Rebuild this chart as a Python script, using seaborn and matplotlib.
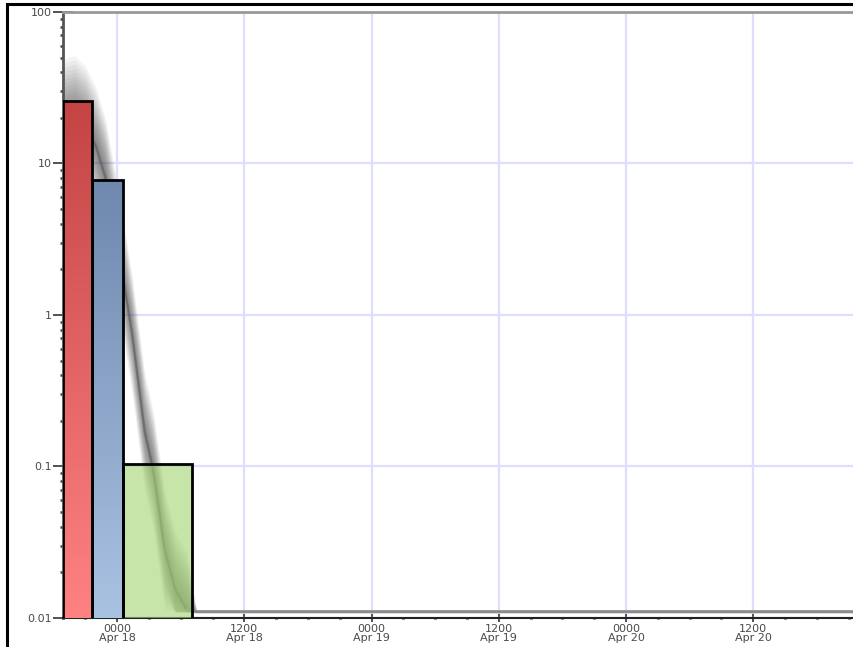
import numpy as np
import pandas as pd
import matplotlib
matplotlib.use("Agg")
import matplotlib.pyplot as plt
import matplotlib.dates as mdates
import matplotlib.ticker as mticker
from matplotlib.colors import LinearSegmentedColormap
from matplotlib.patches import Rectangle
import seaborn as sns

# bars (start, end, value)
bar_start = ["2013-04-17 18:54", "2013-04-17 21:38", "2013-04-18 00:34"]
bar_end = ["2013-04-17 21:38", "2013-04-18 00:34", "2013-04-18 07:06"]
bar_value = [25.9, 7.8, 0.104]
bar_top_colors = ["#c44444", "#6e88ae", "#a3d571"]
bar_bottom_colors = ["#ff8282", "#aac2e2", "#a3d571"]
bar_alpha = [1.0, 1.0, 0.6]

# central curve
curve_hours = [-6.0, -5.0, -4.0, -3.0, -2.0, -1.1, 0.3, 1.4, 2.6, 3.4, 4.5, 5.5, 6.6, 7.5, 70.0]
curve_value = [17, 20, 21, 18, 13, 8.1, 2.3, 0.76, 0.17, 0.095, 0.028, 0.0153, 0.0113, 0.011, 0.011]
spread = [1.05, 1.1, 1.16, 1.22, 1.29, 1.36, 1.44, 1.52, 1.61, 1.7, 1.8, 1.9, 2.02, 2.15, 2.3, 2.45]

y_ticks = [0.01, 0.1, 1, 10, 100]
y_labels = ["0.01", "0.1", "1", "10", "100"]

t0 = pd.Timestamp("2013-04-18 00:00")
x_min = pd.Timestamp("2013-04-17 18:54")
x_max = pd.Timestamp("2013-04-20 21:30")

sns.set_style("white")
plt.rcParams['font.family'] = ['DejaVu Sans']

fig = plt.figure(figsize=(8.54, 6.47), dpi=100)
ax = fig.add_axes([63/854, 1-618/647, 1-63/854, (618-12)/647])
ax.set_yscale("log")
ax.set_ylim(0.01, 100)
ax.set_xlim(mdates.date2num(x_min), mdates.date2num(x_max))

# grey shadow
cx = mdates.date2num(t0 + pd.to_timedelta(curve_hours, unit="h"))
cv = np.array(curve_value, dtype=float)
floor = cv[-1]
for s in spread:
    lo = np.where(cv > floor, np.maximum(cv / s, floor), floor)
    hi = np.where(cv > floor, np.maximum(cv * s, floor), floor)
    ax.fill_between(cx, lo, hi, color="#333333", alpha=0.052, linewidth=0, zorder=2)
curve_df = pd.DataFrame({"t": cx, "v": cv})
sns.lineplot(data=curve_df, x="t", y="v", ax=ax, color="#555555", linewidth=1.6,
             alpha=0.5, zorder=3)
sns.lineplot(data=curve_df.iloc[-3:], x="t", y="v", ax=ax, color="#8a8a8a",
             linewidth=2.2, alpha=1.0, zorder=3)

# bars with vertical gradient
for st, en, val, ctop, cbot, a in zip(bar_start, bar_end, bar_value,
                                      bar_top_colors, bar_bottom_colors, bar_alpha):
    x0 = mdates.date2num(pd.Timestamp(st))
    x1 = mdates.date2num(pd.Timestamp(en))
    bars = ax.bar([x0], [val - 0.0001], width=x1 - x0, bottom=0.0001, align="edge",
                  color="none", edgecolor="black", linewidth=2, zorder=6)
    patch = bars.patches[0]
    p0 = ax.transAxes.inverted().transform(ax.transData.transform((x0, 0.01)))
    p1 = ax.transAxes.inverted().transform(ax.transData.transform((x1, val)))
    cmap = LinearSegmentedColormap.from_list("g", [cbot, ctop])
    grad = np.linspace(0, 1, 256).reshape(-1, 1)
    im = ax.imshow(grad, cmap=cmap, origin="lower", aspect="auto",
                   extent=(max(p0[0], 0), p1[0], p0[1], p1[1]), transform=ax.transAxes,
                   alpha=a, zorder=5)
    im.set_clip_path(patch)

ax.set_xlim(mdates.date2num(x_min), mdates.date2num(x_max))
ax.set_ylim(0.01, 100)

# axes styling
ax.grid(True, which="major", color="#dedeff", linewidth=1.6, zorder=0)
ax.set_axisbelow(True)
ax.xaxis.set_major_locator(mdates.HourLocator(byhour=[0, 12]))
ax.xaxis.set_major_formatter(mdates.DateFormatter("%H%M\n%b %d"))
ax.xaxis.set_minor_locator(mdates.HourLocator(byhour=range(0, 24, 3)))
ax.yaxis.set_major_locator(mticker.FixedLocator(y_ticks))
ax.yaxis.set_major_formatter(mticker.FixedFormatter(y_labels))
ax.yaxis.set_minor_locator(mticker.LogLocator(base=10, subs=np.arange(2, 10)))
ax.yaxis.set_minor_formatter(mticker.NullFormatter())

ax.tick_params(axis="x", which="major", direction="inout", length=6, width=1.3,
               colors="#444444", labelsize=8, labelcolor="#4a4a4a", pad=1, bottom=True)
ax.tick_params(axis="x", which="minor", direction="inout", length=2, width=2.2,
               colors="#333333", bottom=True)
ax.tick_params(axis="y", which="major", direction="inout", length=14, width=1.3,
               colors="#444444", labelsize=8, labelcolor="#4a4a4a", pad=1, left=True)
ax.tick_params(axis="y", which="minor", direction="out", length=2.5, width=1.8,
               colors="#444444", left=True)
for lab in ax.get_xticklabels():
    lab.set_linespacing(0.9)

ax.spines["bottom"].set_color("#222222")
ax.spines["bottom"].set_linewidth(1.5)
ax.spines["left"].set_color("#555555")
ax.spines["left"].set_linewidth(2)
ax.spines["top"].set_color("#999999")
ax.spines["top"].set_linewidth(2)
ax.spines["right"].set_visible(False)
ax.set_xlabel("")
ax.set_ylabel("")

# outer frame
fig.patches.append(Rectangle((7/854, -0.1), 1.2, 1 - 4/647 + 0.1, transform=fig.transFigure,
                             fill=False, edgecolor="black", linewidth=2.2, zorder=10))

fig.savefig("out.png", dpi=100)
